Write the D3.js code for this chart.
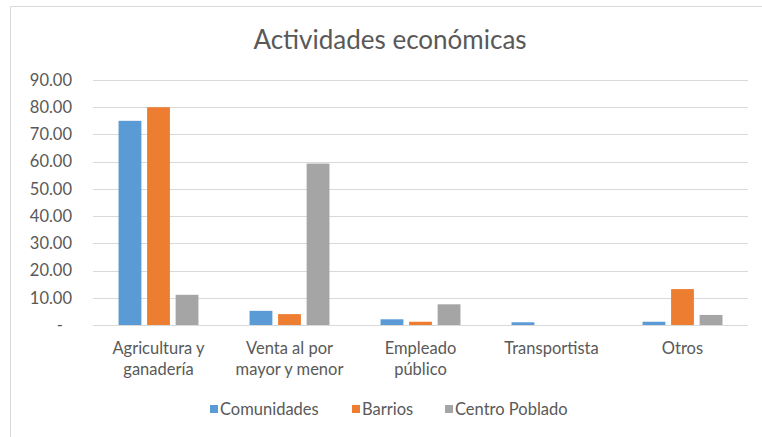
<!DOCTYPE html>
<html>
<head>
<meta charset="utf-8">
<script src="https://cdn.jsdelivr.net/npm/d3@7"></script>
<style>
  body { margin: 0; background: #fff; overflow: hidden; }
  svg { display: block; }
  text { font-family: Lato, "Open Sans", sans-serif; fill: #595959; }
</style>
</head>
<body>
<svg id="canvas" width="762" height="437"></svg>
<script>
const categories = [["Agricultura y", "ganadería"], ["Venta al por", "mayor y menor"], ["Empleado", "público"], ["Transportista"], ["Otros"]]
const seriesNames = ["Comunidades", "Barrios", "Centro Poblado"]
const comunidades = [75.0, 5.2, 2.1, 1.0, 1.2]
const barrios = [80.0, 4.0, 1.2, 0, 13.2]
const centroPoblado = [11.1, 59.3, 7.6, 0, 3.7]
const yTicks = [0, 10, 20, 30, 40, 50, 60, 70, 80, 90]
const colors = ["#5B9BD5", "#ED7D31", "#A5A5A5"]

let canvas = d3.select("#canvas")

// chart frame, only its left and top edges are in the picture
canvas.append("path")
      .attr("d", "M10.5,437V6.5H762")
      .attr("fill", "none")
      .attr("stroke", "#D9D9D9")

canvas.append("text")
      .attr("x", 390)
      .attr("y", 49)
      .attr("text-anchor", "middle")
      .style("font-size", "26px")
      .text("Actividades económicas")

const plotLeft = 93, plotRight = 748, plotTop = 80, plotBottom = 325

let yScale = d3.scaleLinear()
               .domain([0, 90])
               .range([plotBottom, plotTop])

let xScale = d3.scaleBand()
               .domain(d3.range(categories.length))
               .range([plotLeft, plotRight])
               .paddingInner(0.39)
               .paddingOuter(0.195)

let subScale = d3.scaleBand()
                 .domain(d3.range(seriesNames.length))
                 .range([0, xScale.bandwidth()])
                 .paddingInner(0.2)

// gridlines
canvas.append("g")
      .selectAll("line")
      .data(yTicks)
      .enter()
      .append("line")
      .attr("x1", plotLeft)
      .attr("x2", plotRight)
      .attr("y1", (d) => Math.round(yScale(d)) + 0.5)
      .attr("y2", (d) => Math.round(yScale(d)) + 0.5)
      .attr("stroke", "#D9D9D9")
      .attr("stroke-width", 1)

let yAxis = d3.axisLeft(yScale)
              .tickValues(yTicks)
              .tickSize(0)
              .tickPadding(0)
              .tickFormat((d) => d === 0 ? "-" : d3.format(".2f")(d))

let yG = canvas.append("g")
               .attr("transform", "translate(72,0)")
               .call(yAxis)
yG.select(".domain").remove()
yG.selectAll("text")
  .style("font-size", "16.5px")
  .style("font-family", "Lato, sans-serif")
  .attr("fill", "#595959")
  .attr("dx", (d) => d === 0 ? -9 : 0)

let data = seriesNames.map((name, s) => {
  let values = [comunidades, barrios, centroPoblado][s]
  return values.map((v, i) => ({ s: s, i: i, v: v }))
})

data.forEach((series) => {
  canvas.append("g")
        .selectAll("rect")
        .data(series)
        .enter()
        .append("rect")
        .attr("x", (d) => xScale(d.i) + subScale(d.s))
        .attr("width", subScale.bandwidth())
        .attr("y", (d) => yScale(d.v))
        .attr("height", (d) => yScale(0) - yScale(d.v))
        .attr("fill", (d) => colors[d.s])
})

// category labels
let xg = canvas.append("g")
               .selectAll("text")
               .data(categories)
               .enter()
               .append("text")
               .attr("x", (d, i) => xScale(i) + xScale.bandwidth() / 2)
               .attr("y", 354)
               .attr("text-anchor", "middle")
               .style("font-size", "16.5px")

xg.selectAll("tspan")
  .data((d) => d)
  .enter()
  .append("tspan")
  .attr("x", function() { return d3.select(this.parentNode).attr("x") })
  .attr("dy", (d, j) => j === 0 ? 0 : 21)
  .text((d) => d)

// legend
const legendX = [210, 352, 445]
let legend = canvas.append("g")
                   .selectAll("g")
                   .data(seriesNames)
                   .enter()
                   .append("g")

legend.append("rect")
      .attr("x", (d, i) => legendX[i])
      .attr("y", 405)
      .attr("width", 8)
      .attr("height", 8)
      .attr("fill", (d, i) => colors[i])

legend.append("text")
      .attr("x", (d, i) => legendX[i] + 10)
      .attr("y", 415)
      .style("font-size", "16.5px")
      .text((d) => d)
</script>
</body>
</html>
